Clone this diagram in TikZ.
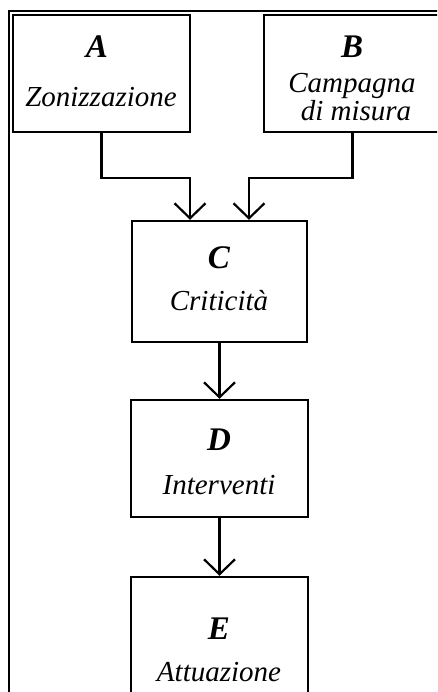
\documentclass[tikz,border=0pt]{standalone}
\usepackage{fontspec}
\setmainfont{Liberation Serif}
\newfontface\letterface{Liberation Serif Bold Italic}
\newfontface\labelface{Liberation Serif Italic}
\usetikzlibrary{arrows.meta}
\begin{document}
\begin{tikzpicture}[x=1pt,y=-1pt,
  box/.style={draw,line width=2.4pt,minimum width=177pt,minimum height=117pt,inner sep=0pt},
  letterbox/.style={font=\letterface\fontsize{33}{36}\selectfont},
  lbl/.style={font=\labelface\fontsize{29}{29}\selectfont,align=center},
  arr/.style={line width=2.2pt,-{Straight Barb[length=15pt,width=31pt,line width=2.2pt]}}]
\useasboundingbox (0,0) rectangle (437,692);
\fill[white] (0,0) rectangle (437,692);
\clip (0,0) rectangle (437,692);
\draw[line width=2.8pt] (9,720) -- (9,11) -- (470,11);
\node[box] (A) at (101.5,73.5) {};
\node[box,minimum width=200pt] (B) at (364,73.5) {};
\node[box,minimum width=175pt,minimum height=121pt] (C) at (219.5,281.5) {};
\node[box] (D) at (219.5,458.5) {};
\node[box] (E) at (219.5,635.5) {};
\node[letterbox] (At) at (97,47) {A};
\node[lbl] (Al) at (101,97) {Zonizzazione};
\node[letterbox] (Bt) at (352,47) {B};
\node[lbl] (Bl) at (352,97) {Campagna\\[-1pt]\hspace*{8pt}di misura};
\node[letterbox] (Ct) at (219,258) {C};
\node[lbl] (Cl) at (219,301) {Criticità};
\node[letterbox] (Dt) at (219,440) {D};
\node[lbl] (Dl) at (219,485) {Interventi};
\node[letterbox] (Et) at (219,629) {E};
\node[lbl] (El) at (219,672) {Attuazione};
\draw[arr] (A.south) -- ++(0,45) -| ([xshift=-29.5pt]C.north);
\draw[arr] ([xshift=-11.5pt]B.south) -- ++(0,45) -| ([xshift=29.5pt]C.north);
\draw[arr] (C.south) -- (D.north);
\draw[arr] (D.south) -- (E.north);
\end{tikzpicture}
\end{document}
